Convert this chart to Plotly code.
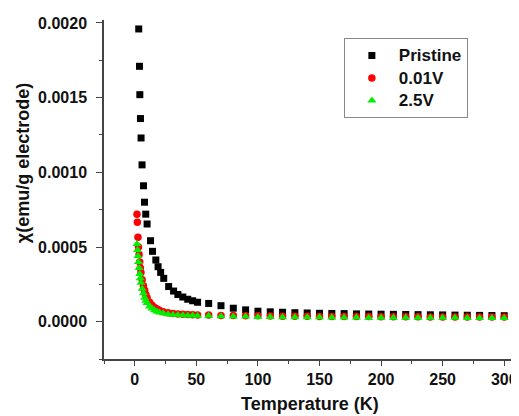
import plotly.graph_objects as go

# ---- data ----
T_pristine = [3.2, 3.8, 4.1, 4.6, 5.1, 5.9, 7.1, 7.9, 8.9, 10.0, 12.8, 14.4, 17.1, 18.9,
              21, 23.5, 27.5, 31.5, 35, 39, 43, 47, 51, 60, 70, 80, 90, 100, 110, 120,
              130, 140, 150, 160, 170, 180, 190, 200, 210, 220, 230, 240, 250, 260,
              270, 280, 290, 300]
chi_pristine = [0.00196, 0.00171, 0.00152, 0.00136, 0.00123, 0.00105, 0.00091, 0.00080,
                0.00072, 0.000654, 0.000542, 0.000471, 0.000413, 0.000368, 0.00033,
                0.00029, 0.000235, 0.000205, 0.000182, 0.000165, 0.00015, 0.00014,
                0.00013, 0.000122, 0.000107, 0.00009, 0.000079, 0.00007, 0.000066,
                0.000063, 0.00006, 0.000058, 0.000056, 0.000055, 0.000054, 0.000052,
                0.000051, 0.00005, 0.000049, 0.000048, 0.000047, 0.000046, 0.000045,
                0.000044, 0.000043, 0.000042, 0.000041, 0.00004]

T_001V = [1.8, 2.1, 2.6, 3.0, 3.5, 4.0, 4.5, 5.0, 6.0, 7.0, 8.0, 9.0, 10.0, 12.0, 14.0,
          16.0, 18.0, 20.0, 23.0, 27.0, 31.0, 35.0, 39.0, 43.0, 47.0, 51.0, 60, 70, 80,
          90, 100, 110, 120, 130, 140, 150, 160, 170, 180, 190, 200, 210, 220, 230, 240,
          250, 260, 270, 280, 290, 300]
chi_001V = [0.00072, 0.000665, 0.000565, 0.0005, 0.00045, 0.0004, 0.00036, 0.00033,
            0.00028, 0.00024, 0.00021, 0.00018, 0.00016, 0.00013, 0.00011, 0.000095,
            0.000085, 0.000076, 0.000067, 0.00006, 0.000055, 0.000052, 0.00005,
            0.000048, 0.000046, 0.000045, 0.000044, 0.000042, 0.000041, 0.00004,
            0.000039, 0.000038, 0.000037, 0.000036, 0.000036, 0.000035, 0.000035,
            0.000034, 0.000034, 0.000034, 0.000033, 0.000033, 0.000033, 0.000033,
            0.000032, 0.000032, 0.000032, 0.000032, 0.000032, 0.000032, 0.000032]

T_25V = [1.8, 2.2, 2.6, 3.0, 3.5, 4.0, 4.5, 5.0, 6.0, 7.0, 8.0, 9.0, 10.0, 12.0, 14.0,
         16.0, 18.0, 20.0, 23.0, 27.0, 31.0, 35.0, 39.0, 43.0, 47.0, 51.0, 60, 70, 80,
         90, 100, 110, 120, 130, 140, 150, 160, 170, 180, 190, 200, 210, 220, 230, 240,
         250, 260, 270, 280, 290, 300]
chi_25V = [0.00052, 0.00048, 0.00044, 0.0004, 0.00036, 0.00032, 0.00029, 0.00026,
           0.00022, 0.00019, 0.00016, 0.00014, 0.000125, 0.000102, 0.000088, 0.000077,
           0.000068, 0.000062, 0.000056, 0.00005, 0.000047, 0.000045, 0.000043,
           0.000042, 0.000041, 0.00004, 0.000039, 0.000037, 0.000035, 0.000034,
           0.000032, 0.000031, 0.00003, 0.00003, 0.000029, 0.000029, 0.000028,
           0.000028, 0.000028, 0.000027, 0.000027, 0.000027, 0.000027, 0.000026,
           0.000026, 0.000026, 0.000026, 0.000025, 0.000025, 0.000025, 0.000025]

series_names = ["Pristine", "0.01V", "2.5V"]
x_ticks = [0, 50, 100, 150, 200, 250, 300]
y_ticks = [0.0, 0.0005, 0.0010, 0.0015, 0.0020]
y_tick_labels = ["0.0000", "0.0005", "0.0010", "0.0015", "0.0020"]

FONT = "Liberation Sans, Arial, sans-serif"
AX = "#444444"


def legend_label(s):
    return '<span style="font-size:17px">' + s + '</span>'


fig = go.Figure()
fig.add_trace(go.Scatter(x=T_pristine, y=chi_pristine, mode="markers",
                         name=legend_label(series_names[0]),
                         marker=dict(symbol="square", size=7, color="#000000")))
fig.add_trace(go.Scatter(x=T_001V, y=chi_001V, mode="markers",
                         name=legend_label(series_names[1]),
                         marker=dict(symbol="circle", size=7.5, color="#ff0000")))
fig.add_trace(go.Scatter(x=T_25V, y=chi_25V, mode="markers",
                         name=legend_label(series_names[2]),
                         marker=dict(symbol="triangle-up", size=8, color="#00ee00")))

# the page adds an 8px body margin, so the figure is 8px smaller than the window
fig.update_layout(
    width=511, height=408,
    margin=dict(l=96, r=0, t=12, b=57),
    paper_bgcolor="white", plot_bgcolor="white",
    font=dict(family=FONT, color="#111111"),
    showlegend=True,
    legend=dict(x=0.578, y=0.946, xanchor="left", yanchor="top",
                bordercolor="#888888", borderwidth=1, bgcolor="white",
                font=dict(family=FONT, size=15, weight="bold", color="#111111"),
                itemwidth=44, tracegroupgap=0),
    xaxis=dict(range=[-25, 312], showgrid=False, zeroline=False,
               showline=True, linecolor=AX, linewidth=1.5,
               ticks="outside", ticklen=5, tickwidth=1.3, tickcolor=AX,
               tickvals=x_ticks, automargin=False,
               tickfont=dict(family=FONT, size=16, weight="bold", color="#111111"),
               minor=dict(ticks="outside", ticklen=3, tickwidth=1.2, tickcolor=AX, dtick=25)),
    yaxis=dict(range=[-0.00025, 0.00202], showgrid=False, zeroline=False,
               showline=True, linecolor=AX, linewidth=1.5,
               ticks="outside", ticklen=6, tickwidth=1.3, tickcolor=AX,
               tickvals=y_ticks, ticktext=y_tick_labels, ticklabelstandoff=6,
               automargin=False,
               tickfont=dict(family=FONT, size=16, weight="bold", color="#111111"),
               minor=dict(ticks="outside", ticklen=3, tickwidth=1.2, tickcolor=AX,
                          dtick=0.00025, tick0=0)),
    annotations=[
        dict(text="Temperature (K)", xref="paper", yref="paper", x=0.496, y=-0.133,
             xanchor="center", yanchor="middle", showarrow=False,
             font=dict(family=FONT, size=18, weight="bold", color="#111111")),
        dict(text="χ(emu/g electrode)", xref="paper", yref="paper", x=-0.195, y=0.578,
             xanchor="center", yanchor="middle", showarrow=False, textangle=-90,
             font=dict(family=FONT, size=18, weight="bold", color="#111111")),
    ],
)

fig.write_html("out.html")
